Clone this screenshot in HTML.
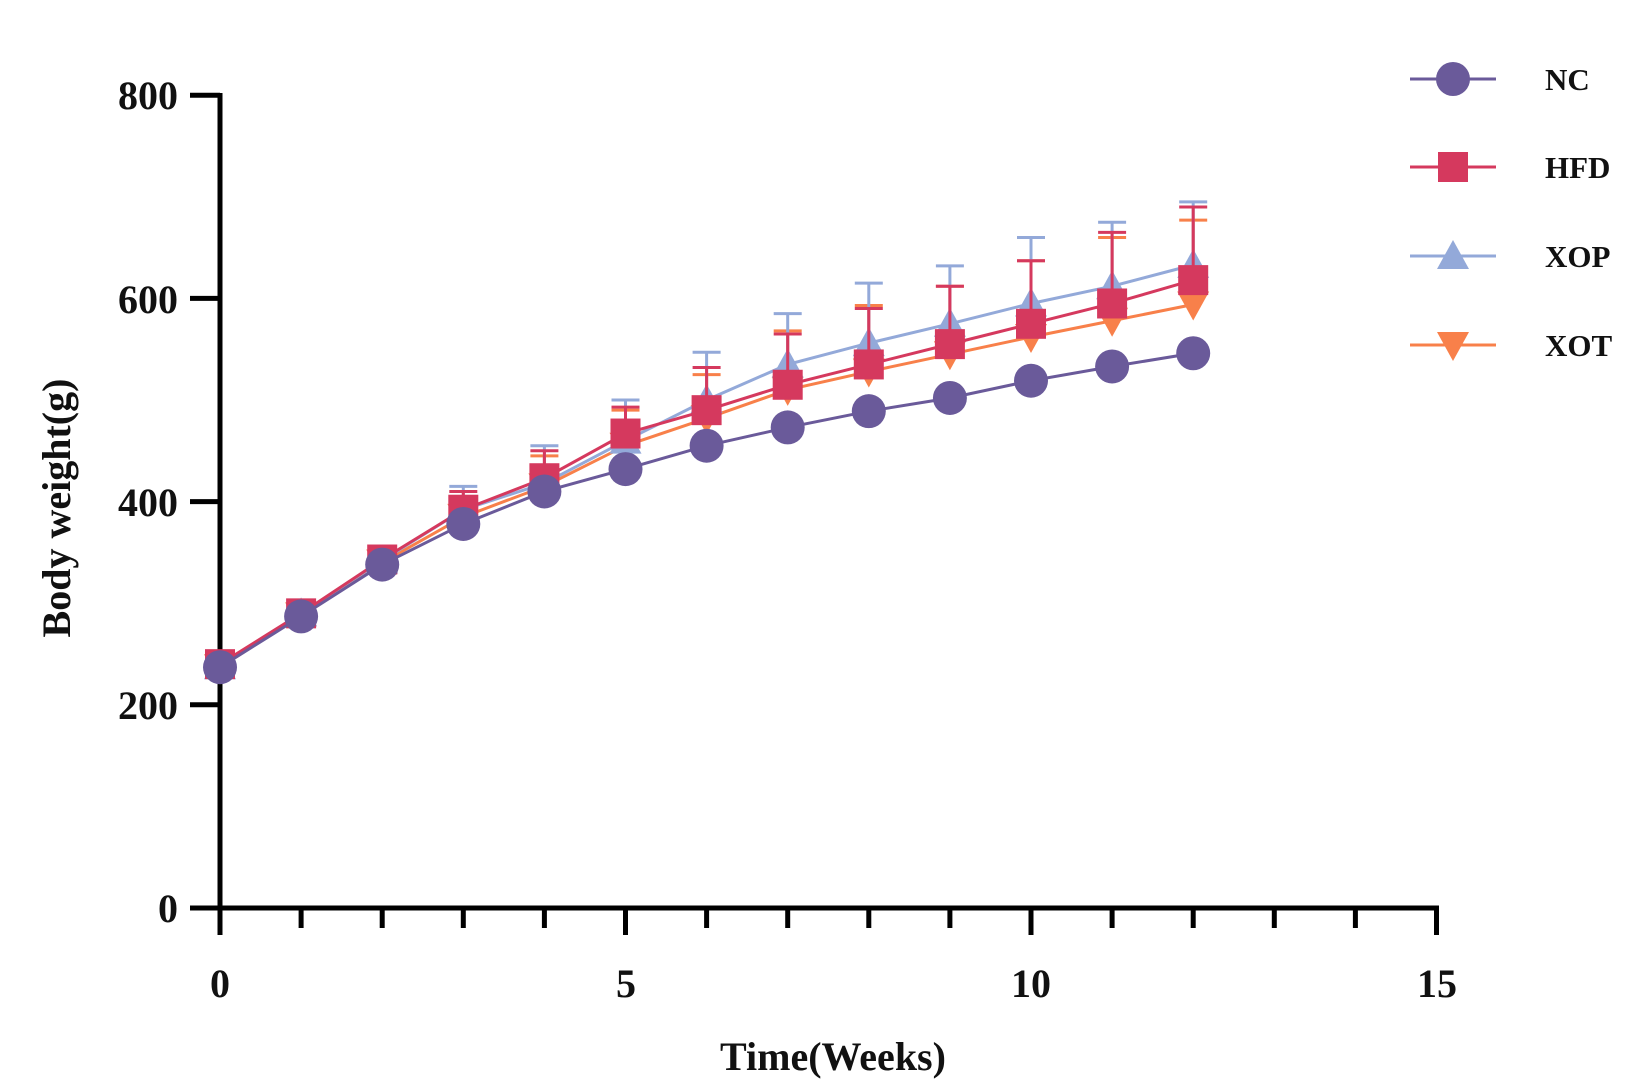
<!DOCTYPE html>
<html><head><meta charset="utf-8"><style>
html,body{margin:0;padding:0;background:#fff;width:1650px;height:1092px;overflow:hidden}
svg text{font-family:"Liberation Serif",serif;font-weight:bold;fill:#111}
</style></head><body>
<svg id="c" width="1650" height="1092" viewBox="0 0 1650 1092" xmlns="http://www.w3.org/2000/svg">
<g stroke="#000" stroke-width="5" fill="none">
<line x1="220" y1="93" x2="220" y2="910"/>
<line x1="218" y1="908" x2="1439" y2="908"/>
</g>
<g font-size="40" text-anchor="end">
<text x="178" y="109">800</text><text x="178" y="313">600</text><text x="178" y="516">400</text><text x="178" y="719">200</text><text x="178" y="922">0</text>
</g>
<g font-size="40" text-anchor="middle">
<text x="220" y="997">0</text><text x="626" y="997">5</text><text x="1031" y="997">10</text><text x="1437" y="997">15</text>
</g>
<text x="833" y="1070" font-size="40" text-anchor="middle">Time(Weeks)</text>
<text transform="translate(70,508) rotate(-90)" font-size="40" text-anchor="middle">Body weight(g)</text>
<g font-size="31">
<text x="1545" y="90">NC</text><text x="1545" y="178">HFD</text><text x="1545" y="267">XOP</text><text x="1545" y="356">XOT</text>
</g>
<g id="d"></g>
</svg>
<script>
var ns="http://www.w3.org/2000/svg",g=document.getElementById('d');
function X(t){return 220+t*81.1}function Y(v){return 908-v*1.016}
function el(n,a,p){var e=document.createElementNS(ns,n);for(var k in a)e.setAttribute(k,a[k]);(p||g).appendChild(e);return e}
for(var i=0;i<=4;i++)el('line',{x1:190,x2:220,y1:Y(i*200),y2:Y(i*200),stroke:'#000','stroke-width':5});
for(var t=0;t<=15;t++)el('line',{x1:X(t),x2:X(t),y1:908,y2:(t%5==0?935:928),stroke:'#000','stroke-width':5});
var S=[
{c:'#f8804a',m:'tri_d',v:[237,288,340,385,415,455,482,510,528,545,562,578,594],e:[0,0,0,400,445,490,525,568,593,612,637,660,677],ly:345},
{c:'#93a9d9',m:'tri',v:[238,290,342,392,418,460,500,535,556,575,595,612,633],e:[0,0,0,415,455,500,547,585,615,632,660,675,695],ly:256},
{c:'#d5395e',m:'sq',v:[240,290,343,392,423,467,490,515,535,555,575,595,618],e:[0,0,0,410,450,493,532,565,590,612,637,665,690],ly:167},
{c:'#6a5a9a',m:'ci',v:[237,287,338,378,410,432,455,473,489,502,519,533,546],e:[0,0,0,0,0,0,0,0,0,0,0,0,0],ly:79}];
function mk(s,x,y){var r=17;
 if(s.m=='ci')el('circle',{cx:x,cy:y,r:r,fill:s.c});
 else if(s.m=='sq')el('rect',{x:x-15,y:y-15,width:30,height:30,fill:s.c});
 else if(s.m=='tri')el('polygon',{points:(x-16)+','+(y+13)+' '+(x+16)+','+(y+13)+' '+x+','+(y-16),fill:s.c});
 else el('polygon',{points:(x-16)+','+(y-13)+' '+(x+16)+','+(y-13)+' '+x+','+(y+16),fill:s.c});}
S.forEach(function(s){
 s.e.forEach(function(e,i){if(e>s.v[i]){var x=X(i);el('line',{x1:x,x2:x,y1:Y(s.v[i]),y2:Y(e),stroke:s.c,'stroke-width':3});el('line',{x1:x-14,x2:x+14,y1:Y(e),y2:Y(e),stroke:s.c,'stroke-width':3});}});
 el('polyline',{points:s.v.map(function(v,i){return X(i)+','+Y(v)}).join(' '),fill:'none',stroke:s.c,'stroke-width':3});
 s.v.forEach(function(v,i){mk(s,X(i),Y(v))});
 el('line',{x1:1410,x2:1496,y1:s.ly,y2:s.ly,stroke:s.c,'stroke-width':3});mk(s,1453,s.ly);
});
</script>
</body></html>
